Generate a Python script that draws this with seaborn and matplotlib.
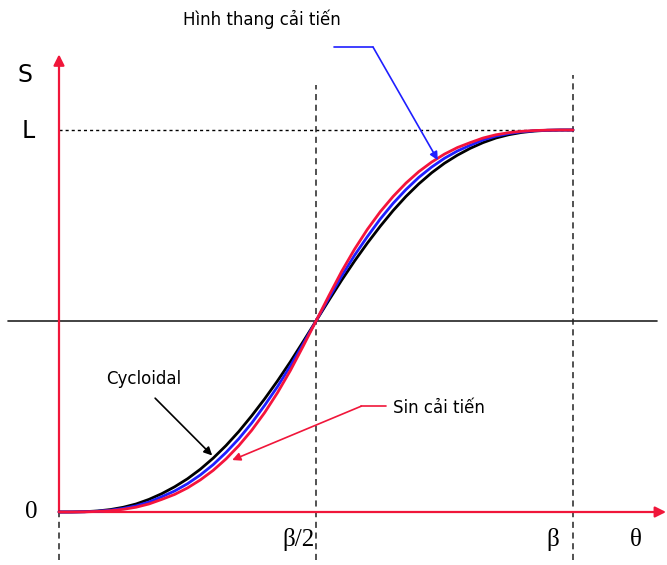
import matplotlib
matplotlib.use("Agg")
import matplotlib.pyplot as plt
import seaborn as sns
import pandas as pd

# Normalised cam rise: theta/beta on x, S/L on y
theta = [0.000, 0.025, 0.050, 0.075, 0.100, 0.125, 0.150, 0.175, 0.200, 0.225,
         0.250, 0.275, 0.300, 0.325, 0.350, 0.375, 0.400, 0.425, 0.450, 0.475,
         0.500, 0.525, 0.550, 0.575, 0.600, 0.625, 0.650, 0.675, 0.700, 0.725,
         0.750, 0.775, 0.800, 0.825, 0.850, 0.875, 0.900, 0.925, 0.950, 0.975,
         1.000]

cycloidal = [0.0, 0.0001, 0.0008, 0.0027, 0.0064, 0.0124, 0.021, 0.033, 0.048, 0.066,
             0.087, 0.112, 0.141, 0.174, 0.211, 0.252, 0.296, 0.343, 0.393, 0.446,
             0.5, 0.554, 0.607, 0.657, 0.704, 0.748, 0.789, 0.826, 0.859, 0.888,
             0.913, 0.934, 0.952, 0.967, 0.979, 0.9876, 0.9936, 0.9973, 0.9992, 0.9999,
             1.0]

hinh_thang = [0.0, 0.0001, 0.0006, 0.002, 0.0047, 0.0093, 0.016, 0.026, 0.040, 0.055,
              0.074, 0.097, 0.124, 0.156, 0.192, 0.233, 0.279, 0.328, 0.382, 0.440,
              0.5, 0.560, 0.618, 0.672, 0.721, 0.767, 0.808, 0.844, 0.876, 0.903,
              0.926, 0.945, 0.960, 0.974, 0.984, 0.9907, 0.9953, 0.998, 0.9994, 0.9999,
              1.0]

sin_cai_tien = [0.0, 0.0, 0.0004, 0.0014, 0.0034, 0.007, 0.0125, 0.021, 0.033, 0.046,
                0.063, 0.084, 0.109, 0.139, 0.174, 0.214, 0.260, 0.312, 0.370, 0.434,
                0.5, 0.566, 0.630, 0.688, 0.740, 0.786, 0.826, 0.861, 0.891, 0.916,
                0.937, 0.954, 0.967, 0.979, 0.9875, 0.993, 0.9966, 0.9986, 0.9996, 1.0,
                1.0]

series_names = ["Cycloidal", "Hình thang cải tiến", "Sin cải tiến"]
series_colors = ["#000000", "#1f1fff", "#f5143c"]

df = pd.concat([
    pd.DataFrame({"theta": theta, "S": cycloidal, "law": series_names[0]}),
    pd.DataFrame({"theta": theta, "S": hinh_thang, "law": series_names[1]}),
    pd.DataFrame({"theta": theta, "S": sin_cai_tien, "law": series_names[2]}),
])

sns.set_theme(style="white")
plt.rcParams["font.family"] = ["DejaVu Sans"]
plt.rcParams["text.color"] = "black"

fig = plt.figure(figsize=(6.67, 5.65), dpi=100)
ax = fig.add_axes([0, 0, 1, 1])

XLIM = (-59 / 514, (667 - 59) / 514)
YLIM = ((512 - 565) / 382, 512 / 382)

RED = "#f0163a"
GRID = "#222222"
BLUE = "#1f1fff"

# guide lines
ax.plot([-0.0992, 1.1634], [0.5, 0.5], color="#222222", lw=1.2, zorder=1)
ax.plot([0, 1], [1, 1], color="black", lw=1.0, dashes=(2.2, 2.2), zorder=1)
ax.plot([0, 0], [-0.126, 0], color=GRID, lw=1.1, dashes=(4, 3), zorder=1)
ax.plot([0.5, 0.5], [-0.126, 1.118], color=GRID, lw=1.1, dashes=(4, 3), zorder=1)
ax.plot([1, 1], [-0.126, 1.144], color=GRID, lw=1.1, dashes=(4, 3), zorder=1)

# axes with arrow heads
ax.annotate("", xy=(1.181, 0), xytext=(0, 0),
            arrowprops=dict(arrowstyle="-|>", color=RED, lw=1.6,
                            mutation_scale=16, shrinkA=0, shrinkB=0), zorder=2)
ax.annotate("", xy=(0, 1.198), xytext=(0, 0),
            arrowprops=dict(arrowstyle="-|>", color=RED, lw=1.6,
                            mutation_scale=16, shrinkA=0, shrinkB=0), zorder=2)

# the three motion laws
sns.lineplot(data=df, x="theta", y="S", hue="law", hue_order=series_names,
             palette=series_colors, linewidth=2.0, legend=False, ax=ax,
             sort=False, estimator=None, zorder=3)
ax.set_xlim(*XLIM)
ax.set_ylim(*YLIM)
ax.axis("off")

# axis labels
ax.text(-0.066, 1.144, "S", fontsize=17, ha="center", va="center")
ax.text(-0.060, 0.997, "L", fontsize=17, ha="center", va="center")
serif = ["Liberation Serif", "DejaVu Serif"]
ax.text(-0.0545, 0.0, "0", fontsize=18, family=serif, ha="center", va="center")
ax.text(0.465, -0.073, "β/2", fontsize=18, family=serif, ha="center", va="center")
ax.text(0.961, -0.073, "β", fontsize=18, family=serif, ha="center", va="center")
ax.text(1.1226, -0.073, "θ", fontsize=18, family=serif, ha="center", va="center")

# curve callouts
ax.text(0.395, 1.291, "Hình thang cải tiến", fontsize=12, ha="center", va="center")
ax.plot([0.535, 0.611], [1.217, 1.217], color=BLUE, lw=1.2, zorder=4)
ax.annotate("", xy=(0.737, 0.921), xytext=(0.611, 1.217),
            arrowprops=dict(arrowstyle="-|>", color=BLUE, lw=1.2,
                            mutation_scale=12, shrinkA=0, shrinkB=0), zorder=4)

ax.text(0.165, 0.348, "Cycloidal", fontsize=12, ha="center", va="center")
ax.annotate("", xy=(0.298, 0.148), xytext=(0.187, 0.298),
            arrowprops=dict(arrowstyle="-|>", color="black", lw=1.2,
                            mutation_scale=12, shrinkA=0, shrinkB=0), zorder=4)

ax.text(0.650, 0.272, "Sin cải tiến", fontsize=12, ha="left", va="center")
ax.plot([0.588, 0.636], [0.277, 0.277], color=RED, lw=1.2, zorder=4)
ax.annotate("", xy=(0.337, 0.136), xytext=(0.588, 0.277),
            arrowprops=dict(arrowstyle="-|>", color=RED, lw=1.2,
                            mutation_scale=12, shrinkA=0, shrinkB=0), zorder=4)

fig.savefig("out.png", dpi=100)
